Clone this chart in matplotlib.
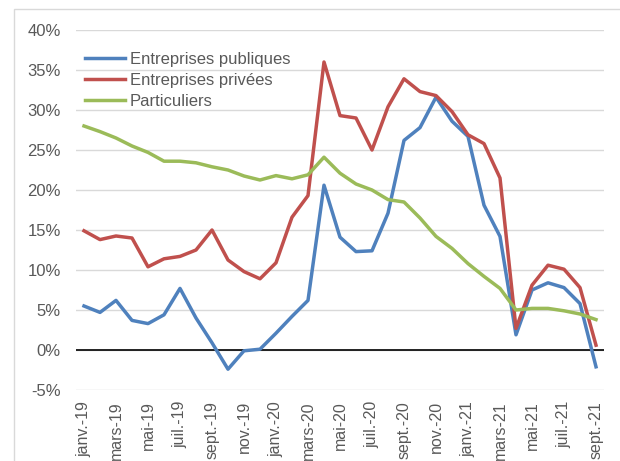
"""Taux de variation par type de client (jan. 2019 - sept. 2021)."""

import matplotlib
matplotlib.use("Agg")
from matplotlib import pyplot as plt
from matplotlib.ticker import FuncFormatter

months = [
    "janv.-19", "févr.-19", "mars-19", "avr.-19", "mai-19", "juin-19",
    "juil.-19", "août-19", "sept.-19", "oct.-19", "nov.-19", "déc.-19",
    "janv.-20", "févr.-20", "mars-20", "avr.-20", "mai-20", "juin-20",
    "juil.-20", "août-20", "sept.-20", "oct.-20", "nov.-20", "déc.-20",
    "janv.-21", "févr.-21", "mars-21", "avr.-21", "mai-21", "juin-21",
    "juil.-21", "août-21", "sept.-21",
]

publiques = [
    5.5, 4.7, 6.2, 3.7, 3.3, 4.4, 7.7, 4.0, 0.9, -2.4, -0.1, 0.1,
    2.1, 4.2, 6.2, 20.6, 14.1, 12.3, 12.4, 17.1, 26.2, 27.8, 31.6, 28.6,
    26.7, 18.1, 14.2, 1.9, 7.5, 8.4, 7.8, 5.8, -2.1,
]
privees = [
    14.9, 13.8, 14.25, 14.0, 10.4, 11.4, 11.7, 12.5, 15.0, 11.25, 9.8, 8.9,
    10.9, 16.6, 19.3, 36.0, 29.3, 29.0, 25.0, 30.4, 33.9, 32.3, 31.8, 29.8,
    26.9, 25.8, 21.5, 2.7, 8.1, 10.6, 10.1, 7.8, 0.6,
]
particuliers = [
    28.0, 27.3, 26.5, 25.5, 24.7, 23.6, 23.6, 23.4, 22.9, 22.5, 21.75, 21.25,
    21.8, 21.4, 21.9, 24.1, 22.1, 20.75, 20.0, 18.8, 18.5, 16.5, 14.2, 12.7,
    10.8, 9.2, 7.7, 5.0, 5.2, 5.2, 4.9, 4.5, 3.8,
]

text_color = "#595959"
plt.rcParams["font.family"] = ["Liberation Sans", "DejaVu Sans"]

fig = plt.figure(figsize=(6.2, 4.61), dpi=100)
ax = fig.add_axes([76 / 620, 1 - 390 / 461, 528 / 620, 360 / 461])

x = range(len(months))
ax.plot(x, publiques, color="#4F81BD", lw=2.5, label="Entreprises publiques")
ax.plot(x, privees, color="#C0504D", lw=2.5, label="Entreprises privées")
ax.plot(x, particuliers, color="#9BBB59", lw=2.5, label="Particuliers")
ax.axhline(0, color="black", lw=1.2, zorder=1)

ax.set_xlim(-0.5, len(months) - 0.5)
ax.set_ylim(-5, 40)
ax.set_yticks(range(-5, 41, 5))
ax.yaxis.set_major_formatter(FuncFormatter(lambda v, _: f"{v:.0f}%"))
ax.set_xticks(list(x)[::2])
ax.set_xticklabels(months[::2], rotation=90)
ax.grid(True, axis="y", color="#D9D9D9", lw=1)
ax.set_axisbelow(True)
for s in ax.spines.values():
    s.set_visible(False)
ax.tick_params(length=0, colors=text_color)
ax.tick_params(axis="y", labelsize=12, pad=11)
ax.tick_params(axis="x", labelsize=11.5, pad=8)

leg = ax.legend(loc="upper left", bbox_to_anchor=(9 / 528, 1 - 22 / 360),
                frameon=False, fontsize=12, handlelength=2.4,
                handletextpad=0.3, labelspacing=0.35, borderpad=0,
                borderaxespad=0)
for t in leg.get_texts():
    t.set_color(text_color)

# chart border (only top and left edges are inside the picture)
fig.patches.append(plt.Rectangle((13.5 / 620, -0.1), 1.0, 1.1 - 9.5 / 461,
                                 transform=fig.transFigure, fill=False,
                                 edgecolor="#D9D9D9", lw=1))

fig.savefig("out.png", dpi=100)
